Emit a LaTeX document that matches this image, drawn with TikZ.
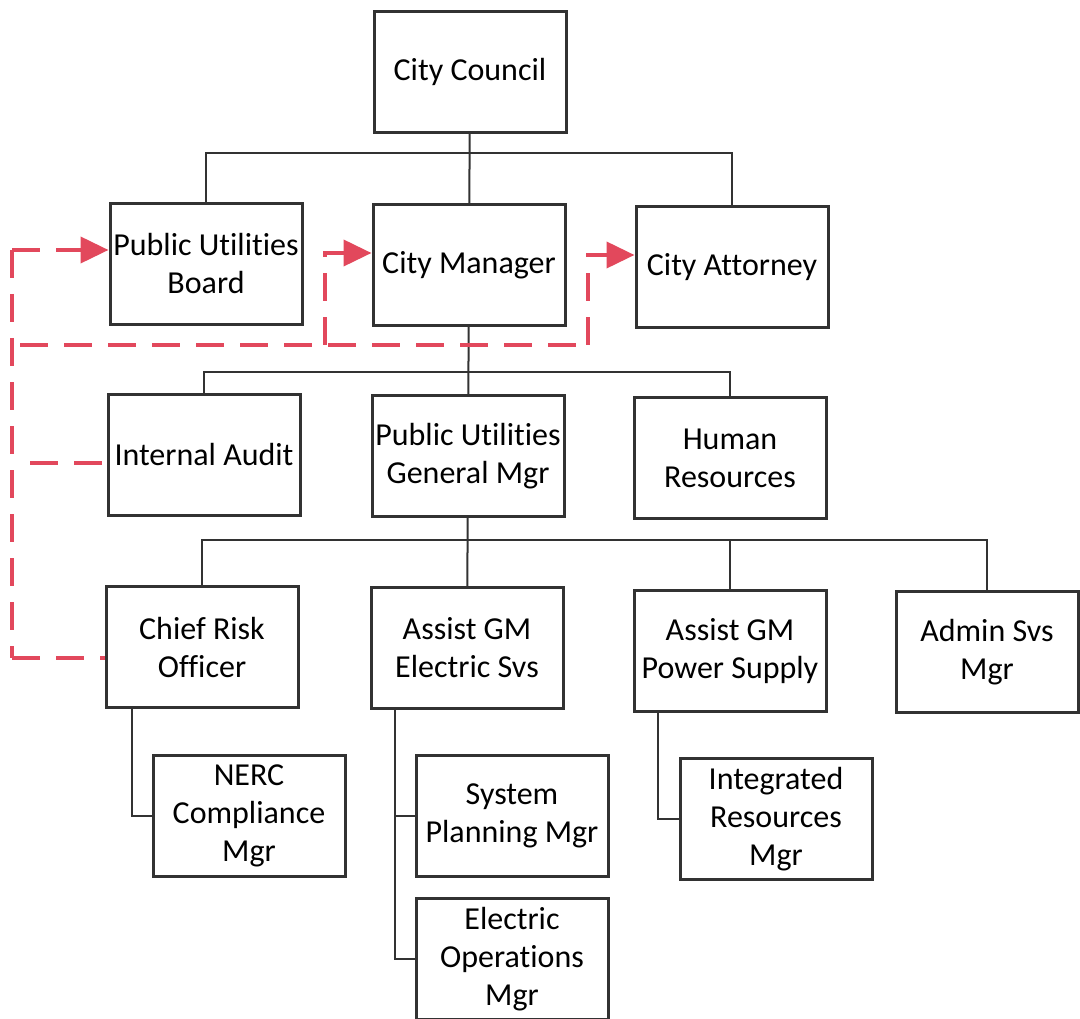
\documentclass[tikz,border=0pt]{standalone}
\usepackage{fontspec}
\setmainfont[Ligatures=NoCommon]{Carlito}
\usepackage{xcolor}
\usetikzlibrary{arrows.meta}

\definecolor{dashred}{RGB}{226,72,92}
\definecolor{boxline}{RGB}{50,50,50}

\tikzset{
  orgbox/.style={draw=boxline,line width=3pt,minimum width=192pt,minimum height=121pt,
    inner sep=0pt,align=center,font=\fontsize{32}{38}\selectfont},
  tie/.style={draw=boxline,line width=2pt},
  dashline/.style={draw=dashred,line width=4pt,dash pattern=on 28pt off 16pt},
  dasharrow/.style={dashline,-{Triangle[length=28pt,width=26pt]}}
}

\begin{document}
\begin{tikzpicture}[x=1pt,y=-1pt]
\useasboundingbox (0,0) rectangle (1080,1019);

% top levels
\node[orgbox] (cc) at (470,72) {City Council};
\node[orgbox] (pub) at (206,264) {Public Utilities\\Board};
\node[orgbox] (cm) at (469,265) {City Manager};
\node[orgbox] (ca) at (732,267) {City Attorney};

\node[orgbox] (ia) at (204,455) {Internal Audit};
\node[orgbox] (pug) at (468,456) {Public Utilities\\General Mgr};
\node[orgbox] (hr) at (730,458) {Human\\Resources};

\node[orgbox] (cro) at (202,647) {Chief Risk\\Officer};
\node[orgbox] (agme) at (467,648) {Assist GM\\Electric Svs};
\node[orgbox] (agps) at (730,651) {Assist GM\\Power Supply};
\node[orgbox,minimum width=182pt] (adm) at (987,652) {Admin Svs\\Mgr};

% bottom level
\node[orgbox] (nerc) at (249,816) {NERC\\Compliance\\Mgr};
\node[orgbox] (spm) at (512,816) {System\\Planning Mgr};
\node[orgbox] (eom) at (512,959) {Electric\\Operations\\Mgr};
\node[orgbox] (irm) at (776,819) {Integrated\\Resources\\Mgr};

\coordinate (bus1) at (470,153);
\coordinate (bus2) at (469,372);
\coordinate (bus3) at (468,540);

\draw[tie] (cc) -- (cm);
\draw[tie] (pub.north) |- (bus1) -| (ca.north);
\draw[tie] (ia.north) |- (bus2) -| (hr.north);
\draw[tie] (cm) -- (pug);
\draw[tie] (cro.north) |- (bus3) -| (adm.north);
\draw[tie] (pug) -- (agme);
\draw[tie] (agps.north) -- (agps.north |- bus3);

\draw[tie] ([xshift=-70]cro.south) |- (nerc.west);
\draw[tie] ([xshift=-72]agme.south) |- (eom.west);
\draw[tie] ([xshift=-72]agme.south |- spm.west) -- (spm.west);
\draw[tie] ([xshift=-72]agps.south) |- (irm.west);

% dashed red lines
\coordinate (rtop) at (12,250);
\coordinate (rbot) at (12,658);
\coordinate (rmid) at (20,345);
\coordinate (rend) at (588,345);
\coordinate (rbend) at (325,345);

\draw[dashline] (rtop) -- (rbot);
\draw[dasharrow] (rtop) -- ([yshift=14]pub.west);
\draw[dashline] (rmid) -- (rend);
\draw[dasharrow] (rbend) |- ([yshift=12]cm.west);
\draw[dasharrow] (rend) |- ([yshift=12]ca.west);
\draw[dashline] (30,463) -- ([yshift=-8]ia.west);
\draw[dashline] (rbot) -- ([yshift=-11]cro.west);

\end{tikzpicture}
\end{document}
